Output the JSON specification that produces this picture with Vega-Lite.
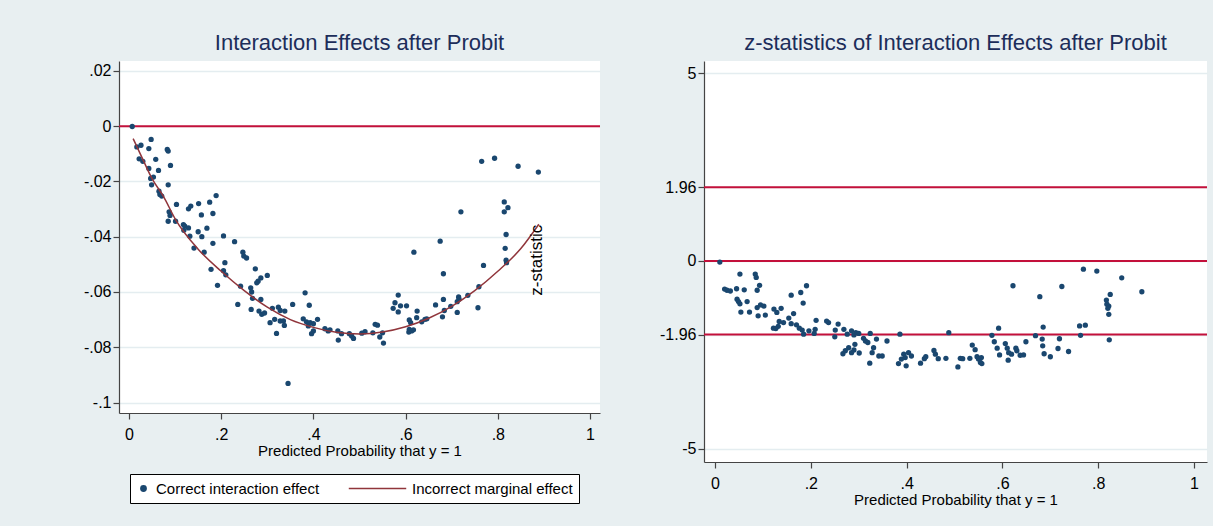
{
  "$schema": "https://vega.github.io/schema/vega-lite/v6.json",
  "background": "#e8eff1",
  "autosize": {"type": "pad"},
  "padding": {"left": 83, "top": 32, "right": 8, "bottom": 19},
  "spacing": 58,
  "config": {
    "font": "Liberation Sans",
    "view": {"fill": "white", "stroke": null},
    "axis": {
      "domainColor": "#444444", "tickColor": "#444444", "labelColor": "black",
      "labelFont": "Liberation Sans", "labelFontSize": 16,
      "titleFont": "Liberation Sans", "titleFontSize": 15, "titleFontWeight": "normal", "titleColor": "black",
      "gridColor": "#e4edf0", "gridWidth": 1.5, "tickSize": 6, "domainWidth": 1.2, "tickWidth": 1.2
    },
    "axisX": {"labelPadding": 7, "titlePadding": 1, "labelAngle": 0},
    "axisY": {"labelPadding": 2},
    "title": {"font": "Liberation Sans", "fontSize": 22, "fontWeight": "normal", "color": "#1c2d5a", "offset": 6, "frame": "group", "anchor": "middle"}
  },
  "datasets": {
    "effect": [
      {"p":0.007,"v":-0.0001},{"p":0.017,"v":-0.0075},{"p":0.026,"v":-0.0069},{"p":0.048,"v":-0.0048},{"p":0.043,"v":-0.0081},
      {"p":0.083,"v":-0.0084},{"p":0.085,"v":-0.0090},{"p":0.022,"v":-0.0118},{"p":0.030,"v":-0.0127},{"p":0.058,"v":-0.0120},
      {"p":0.043,"v":-0.0153},{"p":0.064,"v":-0.0160},{"p":0.090,"v":-0.0142},{"p":0.047,"v":-0.0189},{"p":0.053,"v":-0.0184},
      {"p":0.049,"v":-0.0212},{"p":0.085,"v":-0.0212},{"p":0.065,"v":-0.0235},{"p":0.071,"v":-0.0253},{"p":0.067,"v":-0.0247},
      {"p":0.103,"v":-0.0283},{"p":0.087,"v":-0.0310},{"p":0.089,"v":-0.0323},{"p":0.085,"v":-0.0344},{"p":0.101,"v":-0.0344},
      {"p":0.129,"v":-0.0299},{"p":0.134,"v":-0.0289},{"p":0.151,"v":-0.0280},{"p":0.157,"v":-0.0321},{"p":0.175,"v":-0.0275},
      {"p":0.182,"v":-0.0316},{"p":0.189,"v":-0.0251},{"p":0.118,"v":-0.0356},{"p":0.121,"v":-0.0362},{"p":0.129,"v":-0.0368},
      {"p":0.119,"v":-0.0377},{"p":0.150,"v":-0.0382},{"p":0.158,"v":-0.0400},{"p":0.169,"v":-0.0369},{"p":0.132,"v":-0.0398},
      {"p":0.141,"v":-0.0441},{"p":0.163,"v":-0.0456},{"p":0.182,"v":-0.0424},{"p":0.205,"v":-0.0397},{"p":0.229,"v":-0.0418},
      {"p":0.247,"v":-0.0456},{"p":0.249,"v":-0.0470},{"p":0.255,"v":-0.0477},{"p":0.208,"v":-0.0494},{"p":0.178,"v":-0.0518},
      {"p":0.205,"v":-0.0523},{"p":0.210,"v":-0.0538},{"p":0.274,"v":-0.0516},{"p":0.300,"v":-0.0540},{"p":0.286,"v":-0.0549},
      {"p":0.280,"v":-0.0561},{"p":0.277,"v":-0.0567},{"p":0.192,"v":-0.0576},{"p":0.242,"v":-0.0579},{"p":0.264,"v":-0.0585},
      {"p":0.266,"v":-0.0600},{"p":0.286,"v":-0.0627},{"p":0.268,"v":-0.0623},{"p":0.236,"v":-0.0645},{"p":0.265,"v":-0.0663},
      {"p":0.282,"v":-0.0669},{"p":0.288,"v":-0.0681},{"p":0.294,"v":-0.0676},{"p":0.311,"v":-0.0659},{"p":0.324,"v":-0.0655},
      {"p":0.328,"v":-0.0667},{"p":0.338,"v":-0.0669},{"p":0.355,"v":-0.0645},{"p":0.382,"v":-0.0603},{"p":0.391,"v":-0.0648},
      {"p":0.306,"v":-0.0711},{"p":0.316,"v":-0.0699},{"p":0.328,"v":-0.0705},{"p":0.335,"v":-0.0705},{"p":0.337,"v":-0.0721},
      {"p":0.320,"v":-0.0750},{"p":0.378,"v":-0.0697},{"p":0.385,"v":-0.0708},{"p":0.393,"v":-0.0711},{"p":0.400,"v":-0.0715},
      {"p":0.409,"v":-0.0699},{"p":0.389,"v":-0.0723},{"p":0.400,"v":-0.0741},{"p":0.396,"v":-0.0751},{"p":0.425,"v":-0.0733},
      {"p":0.432,"v":-0.0741},{"p":0.436,"v":-0.0737},{"p":0.453,"v":-0.0741},{"p":0.454,"v":-0.0774},{"p":0.461,"v":-0.0751},
      {"p":0.478,"v":-0.0751},{"p":0.483,"v":-0.0759},{"p":0.487,"v":-0.0768},{"p":0.505,"v":-0.0749},{"p":0.512,"v":-0.0744},
      {"p":0.529,"v":-0.0748},{"p":0.534,"v":-0.0717},{"p":0.539,"v":-0.0720},{"p":0.544,"v":-0.0763},{"p":0.552,"v":-0.0785},
      {"p":0.550,"v":-0.0748},{"p":0.345,"v":-0.0931},{"p":0.584,"v":-0.0611},{"p":0.577,"v":-0.0639},{"p":0.573,"v":-0.0659},
      {"p":0.584,"v":-0.0672},{"p":0.589,"v":-0.0650},{"p":0.602,"v":-0.0650},{"p":0.625,"v":-0.0669},{"p":0.624,"v":-0.0693},
      {"p":0.608,"v":-0.0701},{"p":0.611,"v":-0.0711},{"p":0.608,"v":-0.0735},{"p":0.613,"v":-0.0741},{"p":0.617,"v":-0.0737},
      {"p":0.607,"v":-0.0745},{"p":0.635,"v":-0.0708},{"p":0.642,"v":-0.0699},{"p":0.646,"v":-0.0697},{"p":0.665,"v":-0.0647},
      {"p":0.682,"v":-0.0627},{"p":0.684,"v":-0.0667},{"p":0.680,"v":-0.0690},{"p":0.698,"v":-0.0652},{"p":0.712,"v":-0.0635},
      {"p":0.715,"v":-0.0618},{"p":0.716,"v":-0.0626},{"p":0.712,"v":-0.0674},{"p":0.735,"v":-0.0612},{"p":0.757,"v":-0.0657},
      {"p":0.759,"v":-0.0581},{"p":0.682,"v":-0.0534},{"p":0.675,"v":-0.0416},{"p":0.618,"v":-0.0456},{"p":0.720,"v":-0.0310},
      {"p":0.765,"v":-0.0127},{"p":0.793,"v":-0.0116},{"p":0.844,"v":-0.0145},{"p":0.888,"v":-0.0166},{"p":0.814,"v":-0.0274},
      {"p":0.822,"v":-0.0295},{"p":0.814,"v":-0.0310},{"p":0.818,"v":-0.0392},{"p":0.816,"v":-0.0442},{"p":0.818,"v":-0.0485},
      {"p":0.819,"v":-0.0494},{"p":0.769,"v":-0.0504}
    ],
    "curve": [
      {"p":0.009,"v":-0.0045},{"p":0.03,"v":-0.012},{"p":0.05,"v":-0.019},{"p":0.075,"v":-0.0255},{"p":0.1,"v":-0.0335},
      {"p":0.15,"v":-0.0445},{"p":0.2,"v":-0.0525},{"p":0.25,"v":-0.0595},{"p":0.3,"v":-0.0655},{"p":0.35,"v":-0.07},
      {"p":0.4,"v":-0.0728},{"p":0.45,"v":-0.0746},{"p":0.5,"v":-0.0752},{"p":0.55,"v":-0.0745},{"p":0.6,"v":-0.0726},
      {"p":0.65,"v":-0.0695},{"p":0.7,"v":-0.0652},{"p":0.75,"v":-0.0595},{"p":0.8,"v":-0.0525},{"p":0.85,"v":-0.0443},
      {"p":0.889,"v":-0.0355}
    ],
    "zeroLeft": [{"v": 0}],
    "zLines": [{"v": 1.96}, {"v": 0}, {"v": -1.96}],
    "zLabel": [{"p": 0.886, "v": -0.0485, "label": "z-statistic"}],
    "zstat": [
      {"p":0.010,"v":-0.03},{"p":0.052,"v":-0.35},{"p":0.084,"v":-0.35},{"p":0.086,"v":-0.44},{"p":0.093,"v":-0.65},
      {"p":0.088,"v":-0.78},{"p":0.020,"v":-0.75},{"p":0.025,"v":-0.78},{"p":0.032,"v":-0.80},{"p":0.045,"v":-0.74},
      {"p":0.061,"v":-0.77},{"p":0.046,"v":-1.02},{"p":0.049,"v":-1.08},{"p":0.052,"v":-1.14},{"p":0.067,"v":-1.08},
      {"p":0.054,"v":-1.36},{"p":0.072,"v":-1.36},{"p":0.088,"v":-1.24},{"p":0.095,"v":-1.17},{"p":0.102,"v":-1.20},
      {"p":0.090,"v":-1.46},{"p":0.105,"v":-1.44},{"p":0.123,"v":-1.28},{"p":0.129,"v":-1.37},{"p":0.138,"v":-1.26},
      {"p":0.159,"v":-0.91},{"p":0.179,"v":-0.84},{"p":0.191,"v":-0.66},{"p":0.184,"v":-1.12},{"p":0.164,"v":-1.40},
      {"p":0.154,"v":-1.52},{"p":0.134,"v":-1.61},{"p":0.143,"v":-1.64},{"p":0.122,"v":-1.79},{"p":0.127,"v":-1.80},
      {"p":0.132,"v":-1.74},{"p":0.159,"v":-1.67},{"p":0.170,"v":-1.70},{"p":0.176,"v":-1.79},{"p":0.182,"v":-1.84},
      {"p":0.185,"v":-1.95},{"p":0.196,"v":-1.86},{"p":0.207,"v":-1.93},{"p":0.211,"v":-1.58},{"p":0.209,"v":-1.82},
      {"p":0.233,"v":-1.60},{"p":0.237,"v":-1.64},{"p":0.257,"v":-1.68},{"p":0.251,"v":-1.84},{"p":0.250,"v":-2.02},
      {"p":0.269,"v":-1.82},{"p":0.276,"v":-1.95},{"p":0.285,"v":-1.86},{"p":0.290,"v":-1.97},{"p":0.294,"v":-1.91},
      {"p":0.300,"v":-1.93},{"p":0.292,"v":-2.22},{"p":0.290,"v":-2.37},{"p":0.279,"v":-2.31},{"p":0.272,"v":-2.39},
      {"p":0.267,"v":-2.47},{"p":0.285,"v":-2.44},{"p":0.301,"v":-2.45},{"p":0.310,"v":-2.06},{"p":0.314,"v":-2.13},
      {"p":0.319,"v":-2.17},{"p":0.324,"v":-1.93},{"p":0.328,"v":-2.44},{"p":0.331,"v":-2.31},{"p":0.337,"v":-2.08},
      {"p":0.323,"v":-2.72},{"p":0.342,"v":-2.53},{"p":0.349,"v":-2.53},{"p":0.359,"v":-2.13},{"p":0.386,"v":-1.95},
      {"p":0.383,"v":-2.73},{"p":0.389,"v":-2.61},{"p":0.394,"v":-2.48},{"p":0.397,"v":-2.57},{"p":0.399,"v":-2.79},
      {"p":0.404,"v":-2.44},{"p":0.410,"v":-2.53},{"p":0.429,"v":-2.72},{"p":0.437,"v":-2.60},{"p":0.440,"v":-2.55},
      {"p":0.457,"v":-2.38},{"p":0.460,"v":-2.48},{"p":0.466,"v":-2.60},{"p":0.482,"v":-2.59},{"p":0.488,"v":-1.91},
      {"p":0.507,"v":-2.82},{"p":0.512,"v":-2.59},{"p":0.517,"v":-2.60},{"p":0.532,"v":-2.59},{"p":0.537,"v":-2.24},
      {"p":0.543,"v":-2.36},{"p":0.547,"v":-2.55},{"p":0.550,"v":-2.61},{"p":0.556,"v":-2.57},{"p":0.554,"v":-2.70},
      {"p":0.557,"v":-2.73},{"p":0.578,"v":-1.98},{"p":0.592,"v":-1.79},{"p":0.583,"v":-2.15},{"p":0.589,"v":-2.32},
      {"p":0.594,"v":-2.50},{"p":0.606,"v":-2.20},{"p":0.610,"v":-2.32},{"p":0.613,"v":-2.44},{"p":0.612,"v":-2.64},
      {"p":0.619,"v":-2.48},{"p":0.628,"v":-2.32},{"p":0.630,"v":-2.39},{"p":0.622,"v":-0.66},{"p":0.637,"v":-2.51},
      {"p":0.644,"v":-2.50},{"p":0.649,"v":-2.15},{"p":0.669,"v":-1.99},{"p":0.678,"v":-0.95},{"p":0.685,"v":-1.76},
      {"p":0.683,"v":-2.08},{"p":0.684,"v":-2.26},{"p":0.687,"v":-2.47},{"p":0.700,"v":-2.55},{"p":0.716,"v":-2.33},
      {"p":0.719,"v":-2.07},{"p":0.724,"v":-0.68},{"p":0.738,"v":-2.41},{"p":0.761,"v":-1.73},{"p":0.763,"v":-1.98},
      {"p":0.773,"v":-1.71},{"p":0.769,"v":-0.22},{"p":0.797,"v":-0.27},{"p":0.849,"v":-0.45},{"p":0.891,"v":-0.82},
      {"p":0.825,"v":-0.89},{"p":0.817,"v":-1.04},{"p":0.818,"v":-1.15},{"p":0.822,"v":-1.20},{"p":0.820,"v":-1.26},
      {"p":0.822,"v":-1.42},{"p":0.823,"v":-2.10}
    ]
  },
  "resolve": {"scale": {"x": "independent", "y": "independent", "color": "independent", "shape": "independent", "size": "independent"}, "legend": {"color": "independent", "shape": "independent", "size": "independent"}},
  "hconcat": [
    {
      "width": 481,
      "height": 352,
      "title": {"text": "Interaction Effects after Probit"},
      "layer": [
        {
          "data": {"name": "zeroLeft"},
          "mark": {"type": "rule", "color": "#c3103b", "strokeWidth": 2},
          "encoding": {
            "y": {"field": "v", "type": "quantitative"}
          }
        },
        {
          "data": {"name": "effect"},
          "mark": {"type": "point", "filled": true, "opacity": 1},
          "encoding": {
            "x": {"field": "p", "type": "quantitative", "scale": {"domain": [-0.0217, 1.0217], "nice": false, "zero": false},
                  "axis": {"values": [0, 0.2, 0.4, 0.6, 0.8, 1], "title": "Predicted Probability that y = 1", "grid": false,
                           "labelExpr": "replace(toString(datum.value), '0.', '.')"}},
            "y": {"field": "v", "type": "quantitative", "scale": {"domain": [-0.1038, 0.0236], "nice": false, "zero": false},
                  "axis": {"values": [0.02, 0, -0.02, -0.04, -0.06, -0.08, -0.1], "title": null, "grid": true,
                           "labelExpr": "replace(toString(datum.value), '0.', '.')"}},
            "color": {"datum": "Correct interaction effect", "type": "nominal",
                      "scale": {"domain": ["Correct interaction effect", "Incorrect marginal effect"], "range": ["#1a476f", "#90353b"]},
                      "legend": {"orient": "none", "legendX": 11, "legendY": 413, "direction": "horizontal", "title": null,
                                 "strokeColor": "black", "fillColor": "white", "padding": 6, "columnPadding": 28, "clipHeight": 17,
                                 "labelFontSize": 15, "labelFont": "Liberation Sans", "labelColor": "black", "labelOffset": 5, "labelLimit": 0,
                                 "symbolStrokeWidth": 1.5,
                                 "encode": {
                                   "symbols": {"update": {"stroke": {"signal": "datum.value === 'Incorrect marginal effect' ? '#90353b' : 'transparent'"}}}
                                 }}},
            "shape": {"datum": "Correct interaction effect", "type": "nominal",
                      "scale": {"domain": ["Correct interaction effect", "Incorrect marginal effect"], "range": ["circle", "stroke"]}},
            "size": {"datum": "Correct interaction effect", "type": "ordinal",
                     "scale": {"domain": ["Correct interaction effect", "Incorrect marginal effect"], "range": [28, 3300]}}
          }
        },
        {
          "data": {"name": "curve"},
          "mark": {"type": "line", "strokeWidth": 1.5, "interpolate": "monotone"},
          "encoding": {
            "x": {"field": "p", "type": "quantitative"},
            "y": {"field": "v", "type": "quantitative"},
            "color": {"datum": "Incorrect marginal effect", "type": "nominal"}
          }
        },
        {
          "data": {"name": "zLabel"},
          "mark": {"type": "text", "angle": 270, "font": "Liberation Sans", "fontSize": 17, "color": "black", "align": "center", "baseline": "middle"},
          "encoding": {
            "x": {"field": "p", "type": "quantitative"},
            "y": {"field": "v", "type": "quantitative"},
            "text": {"field": "label"}
          }
        }
      ]
    },
    {
      "width": 503,
      "height": 401,
      "title": {"text": "z-statistics of Interaction Effects after Probit"},
      "layer": [
        {
          "data": {"name": "zLines"},
          "mark": {"type": "rule", "color": "#c3103b", "strokeWidth": 2},
          "encoding": {
            "y": {"field": "v", "type": "quantitative"}
          }
        },
        {
          "data": {"name": "zstat"},
          "mark": {"type": "point", "filled": true, "opacity": 1, "color": "#1a476f", "size": 28},
          "encoding": {
            "x": {"field": "p", "type": "quantitative", "scale": {"domain": [-0.023, 1.027], "nice": false, "zero": false},
                  "axis": {"values": [0, 0.2, 0.4, 0.6, 0.8, 1], "title": "Predicted Probability that y = 1", "grid": false,
                           "labelExpr": "replace(toString(datum.value), '0.', '.')"}},
            "y": {"field": "v", "type": "quantitative", "scale": {"domain": [-5.35, 5.32], "nice": false, "zero": false},
                  "axis": {"values": [5, 1.96, 0, -1.96, -5], "title": null, "grid": true,
                           "labelExpr": "toString(datum.value)"}}
          }
        }
      ]
    }
  ]
}
